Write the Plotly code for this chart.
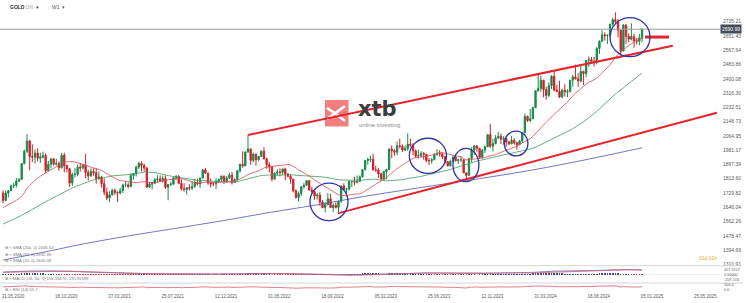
import pandas as pd
import plotly.graph_objects as go

# ---------------- data (weekly GOLD candles, week starting Sunday) ----------------
first_week = "2020-05-31"

open_ = [
    # 2020
    1730, 1685, 1730, 1743, 1771, 1775, 1799, 1810, 1902, 1975, 2035, 1944, 1940, 1964, 1934, 1940,
    1950, 1861, 1899, 1930, 1899, 1902, 1878, 1951, 1889, 1872, 1788, 1839, 1839, 1881, 1877,
    # 2021
    1895, 1850, 1829, 1856, 1848, 1814, 1824, 1784, 1734, 1700, 1719, 1745, 1733, 1729, 1744, 1777,
    1777, 1768, 1831, 1844, 1881, 1903, 1891, 1877, 1764, 1781, 1787, 1808, 1812, 1801, 1814, 1763,
    1780, 1781, 1818, 1827, 1787, 1754, 1750, 1761, 1757, 1768, 1792, 1783, 1818, 1865, 1846, 1788,
    1783, 1783, 1798, 1809,
    # 2022
    1829, 1797, 1818, 1835, 1791, 1808, 1860, 1898, 1889, 1970, 1988, 1921, 1958, 1925, 1945, 1975,
    1931, 1896, 1883, 1811, 1846, 1853, 1851, 1871, 1840, 1827, 1811, 1742, 1703, 1727, 1766, 1775,
    1802, 1747, 1737, 1712, 1717, 1675, 1644, 1660, 1695, 1644, 1657, 1645, 1681, 1771, 1751, 1754,
    1797, 1797, 1793, 1798,
    # 2023
    1824, 1866, 1920, 1926, 1928, 1865, 1865, 1842, 1811, 1856, 1867, 1988, 1978, 1969, 2007, 2003,
    1982, 1990, 2016, 2010, 1977, 1946, 1948, 1961, 1957, 1920, 1919, 1925, 1955, 1961, 1959, 1943,
    1914, 1889, 1915, 1940, 1919, 1924, 1925, 1848, 1833, 1932, 1981, 2006, 1992, 1940, 1981, 2001,
    2072, 2004, 2019, 2053, 2063,
    # 2024
    2045, 2049, 2029, 2018, 2039, 2024, 2013, 2035, 2083, 2179, 2155, 2165, 2230, 2330, 2344, 2392,
    2337, 2302, 2360, 2415, 2334, 2327, 2293, 2333, 2322, 2327, 2392, 2411, 2400, 2387, 2443, 2431,
    2507, 2512, 2503, 2497, 2578, 2621, 2658, 2653, 2657, 2721, 2747, 2736, 2685, 2563, 2715, 2650,
    2633, 2648, 2622, 2621,
    # 2025
    2639,
]
high = [
    1745, 1745, 1745, 1779, 1789, 1818, 1817, 1905, 1984, 2075, 2040, 2015, 1985, 1992, 1966, 1973,
    1962, 1917, 1933, 1933, 1932, 1914, 1965, 1966, 1898, 1875, 1848, 1875, 1897, 1906, 1901,
    1959, 1865, 1875, 1875, 1875, 1855, 1830, 1815, 1760, 1740, 1755, 1756, 1740, 1758, 1785, 1798,
    1790, 1845, 1846, 1890, 1913, 1916, 1903, 1879, 1795, 1795, 1818, 1834, 1833, 1832, 1832, 1782,
    1795, 1823, 1834, 1835, 1809, 1787, 1764, 1781, 1800, 1814, 1813, 1818, 1869, 1877, 1849, 1816,
    1793, 1815, 1815, 1831,
    1831, 1829, 1848, 1853, 1815, 1865, 1902, 1974, 1974, 2070, 1991, 1966, 1961, 1946, 1981, 1998,
    1937, 1910, 1885, 1849, 1869, 1874, 1872, 1879, 1847, 1841, 1813, 1752, 1739, 1768, 1788, 1806,
    1803, 1765, 1741, 1730, 1735, 1688, 1676, 1730, 1725, 1668, 1675, 1684, 1773, 1787, 1760, 1804,
    1802, 1825, 1833, 1833,
    1870, 1922, 1937, 1949, 1960, 1890, 1876, 1848, 1858, 1872, 1990, 2009, 1988, 2032, 2048, 2015,
    2009, 2079, 2048, 2022, 1985, 1983, 1975, 1971, 1959, 1935, 1935, 1963, 1987, 1982, 1968, 1946,
    1917, 1925, 1953, 1953, 1932, 1947, 1926, 1850, 1934, 1997, 2010, 2009, 1993, 1988, 2008, 2075,
    2135, 2048, 2070, 2088, 2079,
    2063, 2062, 2036, 2065, 2051, 2031, 2041, 2088, 2195, 2185, 2222, 2236, 2331, 2431, 2418, 2394,
    2353, 2378, 2422, 2450, 2364, 2388, 2342, 2368, 2339, 2392, 2424, 2483, 2433, 2477, 2448, 2509,
    2531, 2528, 2529, 2586, 2625, 2685, 2672, 2658, 2722, 2758, 2790, 2750, 2689, 2721, 2721, 2666,
    2726, 2665, 2640, 2664,
    2697,
]
low = [
    1670, 1683, 1704, 1741, 1757, 1762, 1794, 1807, 1898, 1965, 1863, 1911, 1903, 1916, 1906, 1931,
    1848, 1860, 1873, 1890, 1891, 1860, 1874, 1850, 1851, 1764, 1770, 1820, 1828, 1855, 1867,
    1816, 1803, 1826, 1831, 1785, 1807, 1761, 1717, 1687, 1676, 1713, 1718, 1677, 1721, 1730, 1765,
    1756, 1763, 1808, 1826, 1870, 1856, 1856, 1761, 1761, 1750, 1785, 1791, 1794, 1790, 1753, 1687,
    1770, 1778, 1805, 1782, 1745, 1737, 1721, 1745, 1746, 1760, 1772, 1759, 1813, 1844, 1778, 1762,
    1770, 1753, 1788, 1795,
    1783, 1790, 1811, 1780, 1788, 1805, 1848, 1878, 1888, 1966, 1895, 1910, 1890, 1916, 1940, 1925,
    1872, 1850, 1797, 1808, 1833, 1828, 1837, 1805, 1823, 1784, 1733, 1697, 1680, 1711, 1754, 1772,
    1745, 1728, 1689, 1690, 1654, 1640, 1615, 1659, 1642, 1617, 1638, 1617, 1672, 1751, 1721, 1745,
    1765, 1774, 1785, 1795,
    1822, 1862, 1896, 1911, 1862, 1853, 1819, 1809, 1805, 1810, 1865, 1934, 1949, 1950, 1991, 1970,
    1975, 1977, 2000, 1952, 1936, 1932, 1938, 1925, 1910, 1893, 1902, 1922, 1949, 1942, 1928, 1907,
    1885, 1885, 1913, 1915, 1901, 1913, 1846, 1810, 1832, 1910, 1954, 1970, 1932, 1931, 1965, 2001,
    1993, 1973, 2016, 2047, 2017,
    2013, 2001, 2010, 2016, 2014, 1984, 2011, 2025, 2081, 2146, 2146, 2163, 2228, 2325, 2324, 2291,
    2277, 2292, 2340, 2325, 2322, 2286, 2286, 2296, 2293, 2318, 2353, 2395, 2353, 2379, 2364, 2410,
    2470, 2489, 2471, 2485, 2546, 2615, 2624, 2604, 2640, 2708, 2724, 2643, 2536, 2563, 2605, 2614,
    2626, 2583, 2602, 2597,
    2615,
]
close = [
    1685, 1730, 1743, 1771, 1775, 1799, 1810, 1902, 1975, 2035, 1944, 1940, 1964, 1934, 1940, 1950,
    1861, 1899, 1930, 1899, 1902, 1878, 1951, 1889, 1872, 1788, 1839, 1839, 1881, 1877, 1895,
    1850, 1829, 1856, 1848, 1814, 1824, 1784, 1734, 1700, 1719, 1745, 1733, 1729, 1744, 1777, 1777,
    1768, 1831, 1844, 1881, 1903, 1891, 1877, 1764, 1781, 1787, 1808, 1812, 1801, 1814, 1763, 1780,
    1781, 1818, 1827, 1787, 1754, 1750, 1761, 1757, 1768, 1792, 1783, 1818, 1865, 1846, 1788, 1783,
    1783, 1798, 1809, 1829,
    1797, 1818, 1835, 1791, 1808, 1860, 1898, 1889, 1970, 1988, 1921, 1958, 1925, 1945, 1975, 1931,
    1896, 1883, 1811, 1846, 1853, 1851, 1871, 1840, 1827, 1811, 1742, 1703, 1727, 1766, 1775, 1802,
    1747, 1737, 1712, 1717, 1675, 1644, 1660, 1695, 1644, 1657, 1645, 1681, 1771, 1751, 1754, 1797,
    1797, 1793, 1798, 1824,
    1866, 1920, 1926, 1928, 1865, 1865, 1842, 1811, 1856, 1867, 1988, 1978, 1969, 2007, 2003, 1982,
    1990, 2016, 2010, 1977, 1946, 1948, 1961, 1957, 1920, 1919, 1925, 1955, 1961, 1959, 1943, 1914,
    1889, 1915, 1940, 1919, 1924, 1925, 1848, 1833, 1932, 1981, 2006, 1992, 1940, 1981, 2001, 2072,
    2004, 2019, 2053, 2063, 2045,
    2049, 2029, 2018, 2039, 2024, 2013, 2035, 2083, 2179, 2155, 2165, 2230, 2330, 2344, 2392, 2337,
    2302, 2360, 2415, 2334, 2327, 2293, 2333, 2322, 2327, 2392, 2411, 2400, 2387, 2443, 2431, 2507,
    2512, 2503, 2497, 2578, 2621, 2658, 2653, 2657, 2721, 2747, 2736, 2685, 2563, 2715, 2650, 2633,
    2648, 2622, 2621, 2639,
    2690.99,
]
# weekly closes before the first visible candle (indicator warm-up), 2019-06-09 .. 2020-05-24
close_before = [
    1341, 1399, 1409, 1400, 1415, 1426, 1419, 1440, 1496, 1513, 1527, 1520, 1507, 1488, 1517, 1497,
    1505, 1489, 1490, 1505, 1509, 1460, 1468, 1462, 1464, 1460, 1476, 1479, 1511, 1552, 1557, 1557,
    1571, 1589, 1570, 1584, 1643, 1585, 1673, 1530, 1498, 1617, 1620, 1683, 1683, 1726, 1700, 1702,
    1744, 1735, 1730,
]
# SMA(200)
sma200_dates = ["2020-05-31", "2020-09-06", "2021-01-03", "2021-05-02", "2021-09-05", "2022-01-02",
                "2022-05-01", "2022-09-04", "2023-01-01", "2023-05-07", "2023-09-03", "2024-01-07",
                "2024-05-05", "2024-09-01", "2025-01-05"]
sma200_vals = [1336, 1378, 1433, 1480, 1525, 1568, 1615, 1660, 1708, 1752, 1793, 1836, 1882, 1935, 1995]

price_ticks = [2735.21, 2651.43, 2567.64, 2483.86, 2400.08, 2316.30, 2232.51, 2148.73, 2064.95,
               1981.17, 1897.39, 1813.60, 1729.82, 1646.04, 1562.26, 1478.47, 1394.69, 1310.91]
lower_scale_labels = ["207.5157", "0.00000", "-207.516", "100.0", "0.0"]
date_tick_labels = ["31.05.2020", "18.10.2020", "07.03.2021", "25.07.2021", "12.12.2021", "01.05.2022",
                    "18.09.2022", "05.02.2023", "25.06.2023", "12.11.2023", "31.03.2024", "18.08.2024",
                    "05.01.2025", "25.05.2025"]
last_price = 2690.99
symbol = "GOLD"
interval = "W1"
legend_sma = ["SMA (200, 0) 2006.54", "SMA (50, 0) 2432.39", "SMA (20, 0) 2640.39"]
legend_macd = "MACD (26, 50, 9) 155.33470, 170.91599"
legend_rsi = "RSI (14) 61.7"
timer_text = "01d 01h"

# drawn annotations (date, price)
trend_lines = [("2022-03-06", 2070, "2025-03-27", 2594, 2.0),
               ("2022-10-28", 1610, "2025-07-21", 2201, 2.0),
               ("2025-01-13", 2645, "2025-03-17", 2645, 3.0)]
circles = [("2022-08-16", "2022-11-24", 1567, 1788),
           ("2023-05-04", "2023-08-10", 1845, 2051),
           ("2023-08-27", "2023-11-03", 1796, 1992),
           ("2024-01-09", "2024-03-11", 1947, 2093),
           ("2024-10-13", "2025-01-26", 2530, 2759)]

# ---------------- indicators ----------------
n = len(close)
assert len(open_) == len(high) == len(low) == n
dates = pd.date_range(first_week, periods=n, freq="7D")
allc = pd.Series(close_before + close, dtype=float)
k = len(close_before)
sma20 = allc.rolling(20).mean().iloc[k:].values
sma50 = allc.rolling(50).mean().iloc[k:].values
ema26 = allc.ewm(span=26, adjust=False).mean()
ema50 = allc.ewm(span=50, adjust=False).mean()
macd = ema26 - ema50
signal = macd.ewm(span=9, adjust=False).mean()
histo = (macd - signal).iloc[k:].values
macd_v = macd.iloc[k:].values
signal_v = signal.iloc[k:].values
delta = allc.diff()
gain = delta.clip(lower=0).ewm(alpha=1 / 14, adjust=False).mean()
loss = (-delta.clip(upper=0)).ewm(alpha=1 / 14, adjust=False).mean()
rsi = (100 - 100 / (1 + gain / loss)).iloc[k:].values

# ---------------- layout geometry ----------------
W, H = 746, 303
MR, MB = 26, 13
PW, PH = W - MR, H - MB


def px(x):
    return x / PW


def py(y):
    return (PH - y) / PH


GREEN = "#17894b"
RED = "#d41f27"
TXT = "#5a5a5a"
FONT = "Liberation Sans"

fig = go.Figure()
fig.add_trace(go.Candlestick(
    x=dates, open=open_, high=high, low=low, close=close, yaxis="y",
    increasing=dict(line=dict(color=GREEN, width=1), fillcolor=GREEN),
    decreasing=dict(line=dict(color=RED, width=1), fillcolor=RED),
    whiskerwidth=0, hoverinfo="skip", showlegend=False))
fig.add_trace(go.Scatter(x=pd.to_datetime(sma200_dates), y=sma200_vals, mode="lines", yaxis="y",
                         line=dict(color="#4c56b0", width=0.8, shape="spline"), showlegend=False))
fig.add_trace(go.Scatter(x=dates, y=sma50, mode="lines", yaxis="y",
                         line=dict(color="#3d9a5f", width=0.8), showlegend=False))
fig.add_trace(go.Scatter(x=dates, y=sma20, mode="lines", yaxis="y",
                         line=dict(color="#e0474e", width=0.8), showlegend=False))
# MACD panel
fig.add_trace(go.Bar(x=dates, y=histo, yaxis="y2", width=1.4 * 86400000, opacity=0.85,
                     marker=dict(color=["#1d2a6e" if v >= 0 else RED for v in histo], line=dict(width=0)),
                     showlegend=False))
fig.add_trace(go.Scatter(x=dates, y=macd_v, mode="lines", yaxis="y2",
                         line=dict(color="#5a60b8", width=0.8), showlegend=False))
fig.add_trace(go.Scatter(x=dates, y=signal_v, mode="lines", yaxis="y2",
                         line=dict(color="#d9606c", width=0.8), showlegend=False))
# RSI panel
fig.add_trace(go.Scatter(x=dates, y=rsi, mode="lines", yaxis="y3",
                         line=dict(color="#d9606c", width=0.8), showlegend=False))

shapes = []
# xtb watermark
shapes.append(dict(type="rect", xref="paper", yref="paper", x0=px(325), x1=px(348.5), y0=py(126.5),
                   y1=py(100), fillcolor="#f37e7e", line=dict(width=0), layer="below"))
shapes.append(dict(type="path", xref="paper", yref="paper",
                   path=f"M {px(327)} {py(108)} L {px(335)} {py(113.3)} L {px(345)} {py(106)} "
                        f"M {px(327)} {py(119)} L {px(335)} {py(113.3)} L {px(345)} {py(121)}",
                   line=dict(color="white", width=2.6), layer="below"))
# panel separators
for yy in (265.7, 283.0):
    shapes.append(dict(type="line", xref="paper", yref="paper", x0=0, x1=px(742), y0=py(yy), y1=py(yy),
                       line=dict(color="#d6d6d6", width=1)))
# last price line
shapes.append(dict(type="line", xref="paper", yref="y", x0=0, x1=1, y0=last_price, y1=last_price,
                   line=dict(color="#9a9a9a", width=1)))
for d0, p0, d1, p1, w in trend_lines:
    shapes.append(dict(type="line", xref="x", yref="y", x0=d0, y0=p0, x1=d1, y1=p1,
                       line=dict(color="#e6232b", width=w)))
for d0, d1, p0, p1 in circles:
    shapes.append(dict(type="circle", xref="x", yref="y", x0=d0, x1=d1, y0=p0, y1=p1,
                       line=dict(color="#2e33a6", width=1.3)))

ann = []
ann.append(dict(xref="paper", yref="paper", x=px(356), y=py(108.6), xanchor="left", yanchor="middle",
                text="<b>xtb</b>", showarrow=False, font=dict(family="DejaVu Sans", size=21, color="#3d3d3d")))
ann.append(dict(xref="paper", yref="paper", x=px(357), y=py(124.6), xanchor="left", yanchor="middle",
                text="online investing", showarrow=False, font=dict(family=FONT, size=6, color="#8a8a8a")))
ann.append(dict(xref="paper", yref="y", x=1.0, y=last_price, xanchor="left", yanchor="middle",
                text=f"{last_price:.2f}", showarrow=False, bgcolor="#424c57", borderpad=1,
                font=dict(family=FONT, size=5, color="white")))
ann.append(dict(xref="paper", yref="paper", x=px(8), y=py(7), xanchor="left", yanchor="middle",
                text=f"<b>{symbol}</b> <span style='color:#aaa'>DN</span>  ▾", showarrow=False,
                font=dict(family=FONT, size=5, color="#333")))
ann.append(dict(xref="paper", yref="paper", x=px(50), y=py(7), xanchor="left", yanchor="middle",
                text=f"{interval}  ▾", showarrow=False, font=dict(family=FONT, size=5, color="#555")))
for i, t in enumerate(legend_sma):
    ann.append(dict(xref="paper", yref="paper", x=px(3), y=py(248 + 6.2 * i), xanchor="left",
                    yanchor="middle", text="⊞ × " + t, showarrow=False,
                    font=dict(family=FONT, size=4.2, color="#777")))
ann.append(dict(xref="paper", yref="paper", x=px(3), y=py(278.8), xanchor="left", yanchor="middle",
                text="⊞ × " + legend_macd, showarrow=False, font=dict(family=FONT, size=4.2, color="#777")))
ann.append(dict(xref="paper", yref="paper", x=px(3), y=py(289.3), xanchor="left", yanchor="middle",
                text="⊞ × " + legend_rsi, showarrow=False, font=dict(family=FONT, size=4.2, color="#777")))
ann.append(dict(xref="paper", yref="paper", x=px(697), y=py(257.5), xanchor="left", yanchor="middle",
                text=timer_text, showarrow=False, font=dict(family=FONT, size=5, color="#f0a030")))
# scale labels of the MACD and RSI panels (stacked in the right margin)
for i, t in enumerate(lower_scale_labels):
    ann.append(dict(xref="paper", yref="paper", x=px(722), y=py(270.2 + 5.0 * i), xanchor="left",
                    yanchor="middle", text=t, showarrow=False,
                    font=dict(family=FONT, size=3.8, color=TXT)))

tick_font = dict(family=FONT, size=5, color=TXT)
fig.update_layout(
    width=W, height=H, margin=dict(l=0, r=MR, t=0, b=MB),
    paper_bgcolor="white", plot_bgcolor="white", showlegend=False, bargap=0,
    shapes=shapes, annotations=ann,
    xaxis=dict(range=["2020-05-23", "2025-07-29"], anchor="y3", showgrid=False, zeroline=False,
               rangeslider=dict(visible=False),
               tickvals=[pd.to_datetime(s, dayfirst=True) for s in date_tick_labels],
               ticktext=date_tick_labels, ticks="", ticklabelshift=10, ticklabelstandoff=2,
               tickfont=dict(family=FONT, size=4.5, color=TXT)),
    yaxis=dict(domain=[py(265.5), 1], range=[1303.9, 2862.6], side="right", anchor="x",
               showgrid=False, zeroline=False, tickvals=price_ticks,
               ticktext=[f"{v:.2f}" for v in price_ticks], ticks="", tickfont=tick_font,
               ticklabelstandoff=2),
    yaxis2=dict(domain=[py(283), py(266)], range=[-258, 246], side="right", anchor="x",
                showgrid=False, zeroline=True, zerolinecolor="#eeeeee", zerolinewidth=0.5,
                showticklabels=False),
    yaxis3=dict(domain=[0, py(283)], range=[-6, 142], side="right", anchor="x",
                showgrid=False, zeroline=False, showticklabels=False),
)
fig.write_html("out.html")
